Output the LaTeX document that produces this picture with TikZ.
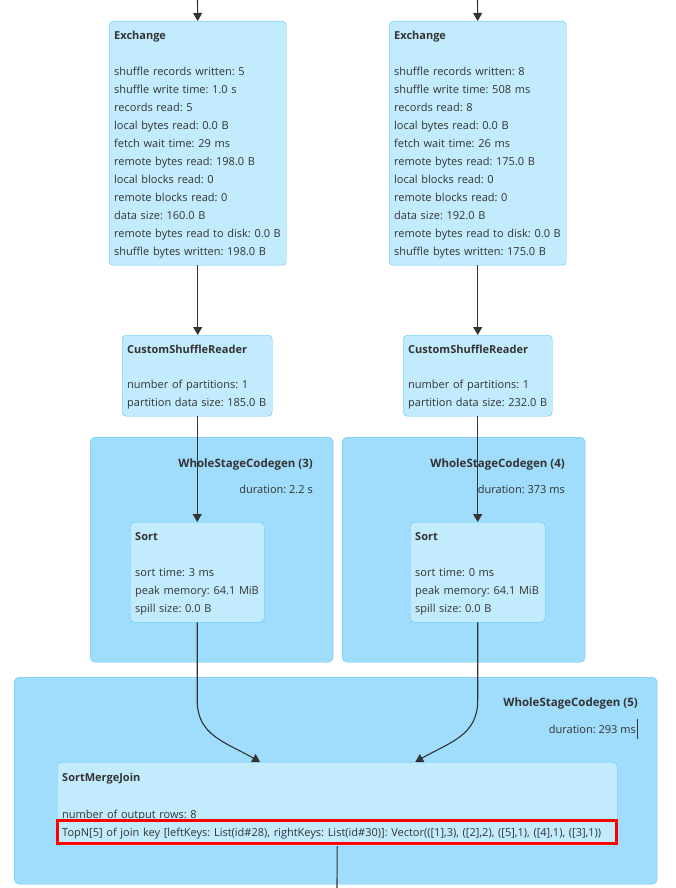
\documentclass[tikz,border=0pt]{standalone}
\usepackage{fontspec}
\setmainfont{Open Sans}
\usetikzlibrary{arrows.meta,positioning}
\definecolor{opfill}{HTML}{C2EBFD}
\definecolor{opline}{HTML}{5BC5F8}
\definecolor{clfill}{HTML}{A0DCFC}
\definecolor{txtgray}{HTML}{333333}
\newcommand{\planfont}{\fontsize{11}{18}\selectfont\frenchspacing}
\newcommand{\planstrut}{\rule{0pt}{12pt}}
\tikzset{
  opbox/.style={draw=opline,fill=opfill,rounded corners=4pt,anchor=north west,
    align=left,inner xsep=5pt,inner ysep=0pt,text=txtgray,font=\planfont},
  cluster/.style={draw=opline,fill=clfill,rounded corners=5pt,anchor=north west,inner sep=0pt},
  cltext/.style={anchor=east,text=txtgray,font=\planfont,inner sep=0pt},
  cltitle/.style={cltext,font=\fontsize{11.5}{18}\selectfont\bfseries},
  flow/.style={draw=black!80,line width=1.1pt,-{Triangle[width=9pt,length=8pt]}},
  link/.style={draw=black!80,line width=1.1pt},
  hilite/.style={draw=red,line width=3pt},
}
\begin{document}
\begin{tikzpicture}[x=1pt,y=-1pt]
  \useasboundingbox (0,0) rectangle (676,888);
  % codegen clusters
  \node[cluster,minimum width=243pt,minimum height=225pt] (cl3) at (90,437) {};
  \node[cluster,minimum width=243pt,minimum height=225pt] (cl4) at (342,437) {};
  \node[cluster,minimum width=643pt,minimum height=207pt] (cl5) at (14,677) {};
  \node[cltitle] (cl3name) at (313,465) {WholeStageCodegen (3)};
  \node[cltext] (cl3dur) at (313,489) {duration: 2.2 s};
  \node[cltitle] (cl4name) at (565,465) {WholeStageCodegen (4)};
  \node[cltext] (cl4dur) at (565,489) {duration: 373 ms};
  \node[cltitle] (cl5name) at (638,704) {WholeStageCodegen (5)};
  \node[cltext] (cl5dur) at (636,729) {duration: 293 ms};
  \draw[txtgray,line width=0.8pt] (637.5,719) -- (637.5,739);
  % exchanges
  \node[opbox,minimum width=177pt,minimum height=244pt,text width=167pt] (exL) at (109,21)
    {\planstrut\textbf{Exchange}\\[18pt]
     shuffle records written: 5\\ shuffle write time: 1.0 s\\ records read: 5\\
     local bytes read: 0.0 B\\ fetch wait time: 29 ms\\ remote bytes read: 198.0 B\\
     local blocks read: 0\\ remote blocks read: 0\\ data size: 160.0 B\\
     \mbox{remote bytes read to disk: 0.0 B}\\ shuffle bytes written: 198.0 B};
  \node[opbox,minimum width=177pt,minimum height=244pt,text width=167pt] (exR) at (389,21)
    {\planstrut\textbf{Exchange}\\[18pt]
     shuffle records written: 8\\ shuffle write time: 508 ms\\ records read: 8\\
     local bytes read: 0.0 B\\ fetch wait time: 26 ms\\ remote bytes read: 175.0 B\\
     local blocks read: 0\\ remote blocks read: 0\\ data size: 192.0 B\\
     \mbox{remote bytes read to disk: 0.0 B}\\ shuffle bytes written: 175.0 B};
  % shuffle readers
  \node[opbox,minimum width=150pt,minimum height=81pt,text width=140pt] (csrL) at (122,335)
    {\planstrut\textbf{CustomShuffleReader}\\[17pt]
     number of partitions: 1\\ \mbox{partition data size: 185.0 B}};
  \node[opbox,minimum width=149pt,minimum height=81pt,text width=139pt] (csrR) at (403,335)
    {\planstrut\textbf{CustomShuffleReader}\\[17pt]
     number of partitions: 1\\ \mbox{partition data size: 232.0 B}};
  % sorts
  \node[opbox,minimum width=134pt,minimum height=100pt,text width=124pt] (sortL) at (130,522)
    {\planstrut\textbf{Sort}\\[18pt]
     sort time: 3 ms\\ \mbox{peak memory: 64.1 MiB}\\ spill size: 0.0 B};
  \node[opbox,minimum width=135pt,minimum height=100pt,text width=125pt] (sortR) at (410,522)
    {\planstrut\textbf{Sort}\\[18pt]
     sort time: 0 ms\\ \mbox{peak memory: 64.1 MiB}\\ spill size: 0.0 B};
  % join
  \node[opbox,minimum width=560pt,minimum height=84pt,text width=550pt] (smj) at (57,762)
    {\planstrut\textbf{SortMergeJoin}\\[19pt]
     number of output rows: 8\\
     \mbox{TopN[5] of join key [leftKeys: List(id\#28), rightKeys: List(id\#30)]: Vector(([1],3), ([2],2), ([5],1), ([4],1), ([3],1))}};
  \draw[hilite] (57,820) rectangle (616,843);
  % connectors
  \coordinate (inL) at (197.5,0);
  \coordinate (inR) at (477.5,0);
  \coordinate (outB) at (337,888);
  \draw[flow] (inL) -- (exL.north);
  \draw[flow] (inR) -- (exR.north);
  \draw[flow] (exL.south) -- (exL.south |- csrL.north);
  \draw[flow] (exR.south) -- (exR.south |- csrR.north);
  \draw[flow] (csrL.south) -- (csrL.south |- sortL.north);
  \draw[flow] (csrR.south) -- (csrR.south |- sortR.north);
  \draw[flow] (sortL.south) -- ++(0,78) .. controls +(0,35) and +(-35,-20) .. ([xshift=-77pt]smj.north);
  \draw[flow] (sortR.south) -- ++(0,78) .. controls +(0,35) and +(35,-20) .. ([xshift=78pt]smj.north);
  \draw[link] (smj.south) -- (outB);
\end{tikzpicture}
\end{document}
